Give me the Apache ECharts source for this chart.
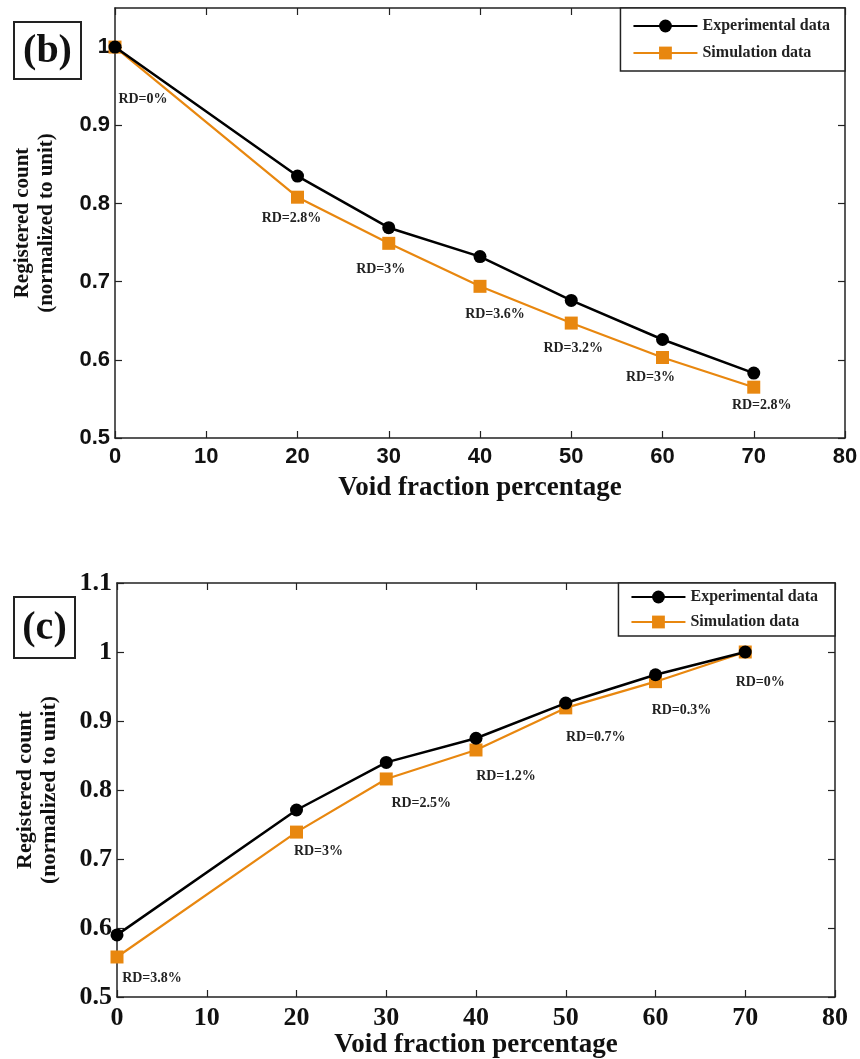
<!DOCTYPE html>
<html>
<head>
<meta charset="utf-8">
<script src="https://cdn.jsdelivr.net/npm/echarts@6/dist/echarts.min.js"></script>
<style>
html,body{margin:0;padding:0;background:#fff;}
#main{width:860px;height:1059px;}
</style>
</head>
<body>
<div id="main"></div>
<script>
// ---- data ----
const voidFraction = [0, 20, 30, 40, 50, 60, 70];
const expB = [1.0, 0.835, 0.769, 0.732, 0.676, 0.626, 0.583];
const simB = [1.0, 0.808, 0.749, 0.694, 0.647, 0.603, 0.565];
const rdB = ['RD=0%', 'RD=2.8%', 'RD=3%', 'RD=3.6%', 'RD=3.2%', 'RD=3%', 'RD=2.8%'];
const expC = [0.590, 0.771, 0.840, 0.875, 0.926, 0.967, 1.0];
const simC = [0.558, 0.739, 0.816, 0.858, 0.919, 0.957, 1.0];
const rdC = ['RD=3.8%', 'RD=3%', 'RD=2.5%', 'RD=1.2%', 'RD=0.7%', 'RD=0.3%', 'RD=0%'];
const xTicks = [0, 10, 20, 30, 40, 50, 60, 70, 80];
const seriesNames = ['Experimental data', 'Simulation data'];
const panelB = '(b)';
const panelC = '(c)';
const xTitle = 'Void fraction percentage';
const yTitle = 'Registered count\n(normalized to unit)';

// ---- styling (label offsets relative to point) ----
const offB = [[28, 52], [-6, 21], [-8, 26], [15, 28], [2, 25], [-12, 20], [8, 18]];
const offC = [[35, 21], [22, 19], [35, 24], [30, 26], [30, 30], [26, 29], [15, 30]];

const ORANGE = '#E8870F';
const SERIF = 'Liberation Serif, Times New Roman, serif';
const SANS = 'Liberation Sans, Arial, sans-serif';
const AX = '#222';

function pairs(ys) { return voidFraction.map((x, i) => [x, ys[i]]); }
function simData(ys, rd, off) {
  return voidFraction.map((x, i) => ({
    value: [x, ys[i]],
    label: { formatter: rd[i], offset: off[i] }
  }));
}

function xAx(grid, pos, font, fs, showLabel, name, gap) {
  return {
    type: 'value', gridIndex: grid, position: pos, min: 0, max: 80, interval: 10,
    axisLine: { show: true, onZero: false, lineStyle: { color: AX, width: 1.5 } },
    axisTick: { show: true, inside: true, length: 7, lineStyle: { color: AX, width: 1.2 } },
    axisLabel: { show: showLabel, fontFamily: font, fontWeight: 'bold', fontSize: fs, color: '#111', margin: 8 },
    splitLine: { show: false },
    name: name || '', nameLocation: 'middle', nameGap: gap || 36,
    nameTextStyle: { fontFamily: SERIF, fontWeight: 'bold', fontSize: 27, color: '#111' }
  };
}
function yAx(grid, pos, max, font, fs, showLabel, name, tfs) {
  return {
    type: 'value', gridIndex: grid, position: pos, min: 0.5, max: max, interval: 0.1,
    axisLine: { show: true, onZero: false, lineStyle: { color: AX, width: 1.5 } },
    axisTick: { show: true, inside: true, length: 7, lineStyle: { color: AX, width: 1.2 } },
    axisLabel: {
      show: showLabel, fontFamily: font, fontWeight: 'bold', fontSize: fs, color: '#111', margin: 5,
      formatter: v => (v > max - 0.04 && max % 0.1 > 0.01) ? '' : String(Math.round(v * 10) / 10),
      showMaxLabel: max > 1.08
    },
    splitLine: { show: false },
    name: name || '', nameLocation: 'middle', nameGap: 56, nameRotate: 90,
    nameTextStyle: { fontFamily: SERIF, fontWeight: 'bold', fontSize: tfs || 20, color: '#111', lineHeight: 24 }
  };
}

function expSeries(xi, yi, ys) {
  return {
    name: seriesNames[0], type: 'line', xAxisIndex: xi, yAxisIndex: yi,
    data: pairs(ys), symbol: 'circle', symbolSize: 13,
    lineStyle: { color: '#000', width: 2.5 }, itemStyle: { color: '#000' },
    z: 3, animation: false
  };
}
function simSeries(xi, yi, ys, rd, off) {
  return {
    name: seriesNames[1], type: 'line', xAxisIndex: xi, yAxisIndex: yi,
    data: simData(ys, rd, off), symbol: 'rect', symbolSize: 13,
    lineStyle: { color: ORANGE, width: 2.2 }, itemStyle: { color: ORANGE },
    label: {
      show: true, position: 'inside', align: 'center', verticalAlign: 'middle',
      fontFamily: SERIF, fontWeight: 'bold', fontSize: 14, color: '#222'
    },
    z: 2, animation: false
  };
}

function panel(x, y, w, h, txt) {
  return {
    type: 'group', left: x, top: y,
    children: [
      { type: 'rect', shape: { x: 0, y: 0, width: w, height: h },
        style: { fill: '#fff', stroke: '#222', lineWidth: 2 } },
      { type: 'text', x: w / 2, y: h / 2 + 1,
        style: { text: txt, font: 'bold 40px ' + SERIF, fill: '#111', align: 'center', verticalAlign: 'middle' } }
    ]
  };
}

const legendCommon = {
  orient: 'vertical', data: seriesNames, backgroundColor: '#fff',
  borderColor: '#222', borderWidth: 1.5, itemHeight: 16,
  textStyle: { fontFamily: SERIF, fontWeight: 'bold', fontSize: 16, color: '#222' },
  selectedMode: false
};

const option = {
  backgroundColor: '#fff',
  animation: false,
  grid: [
    { left: 115, right: 15, top: 8, bottom: 621, outerBoundsMode: 'none' },
    { left: 117, right: 25, top: 583, bottom: 62, outerBoundsMode: 'none' }
  ],
  xAxis: [
    xAx(0, 'bottom', SANS, 22, true, xTitle, 37),
    xAx(0, 'top', SANS, 22, false),
    xAx(1, 'bottom', SERIF, 26, true, xTitle, 32),
    xAx(1, 'top', SERIF, 26, false)
  ],
  yAxis: [
    yAx(0, 'left', 1.05, SANS, 22, true, yTitle, 21),
    yAx(0, 'right', 1.05, SANS, 22, false),
    yAx(1, 'left', 1.1, SERIF, 26, true, yTitle, 22),
    yAx(1, 'right', 1.1, SERIF, 26, false)
  ],
  legend: [
    Object.assign({}, legendCommon, { right: 15, top: 8, padding: [10, 15, 10, 12], itemWidth: 64, itemGap: 11 }),
    Object.assign({}, legendCommon, { right: 25, top: 583, padding: [6, 17, 6, 12], itemWidth: 54, itemGap: 9 })
  ],
  series: [
    simSeries(0, 0, simB, rdB, offB),
    expSeries(0, 0, expB),
    simSeries(2, 2, simC, rdC, offC),
    expSeries(2, 2, expC)
  ],
  graphic: [
    panel(13, 21, 67, 57, panelB),
    panel(13, 596, 61, 61, panelC)
  ]
};

const chart = echarts.init(document.getElementById('main'), null, { renderer: 'canvas' });
chart.setOption(option);
</script>
</body>
</html>
